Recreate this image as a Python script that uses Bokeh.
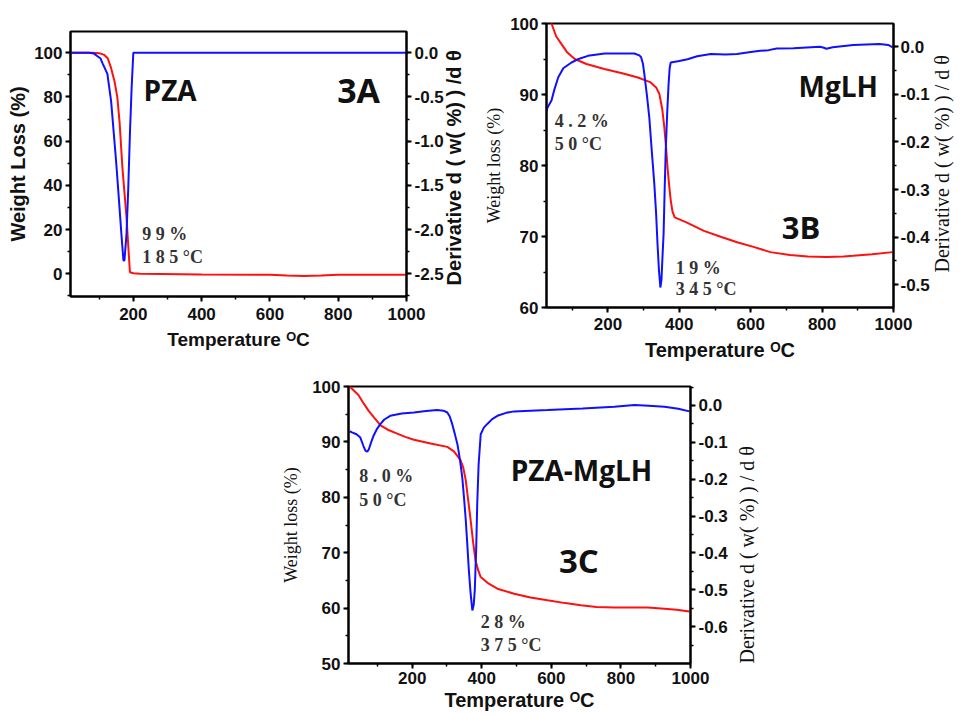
import math
from bokeh.plotting import figure
from bokeh.models import (Range1d, LinearAxis, SingleIntervalTicker,
                          PrintfTickFormatter, Label, Spacer)
from bokeh.layouts import column, row
from bokeh.embed import file_html
from bokeh.resources import INLINE

SANS = "Liberation Sans"
SERIF = "Liberation Serif"
HEAD = "Open Sans"
RED = "#ff1010"
BLUE = "#1010ff"
X_TITLE = "Temperature ᴼC"
NB = "\u00a0"

# ---------------- 3A : PZA ----------------
a_w_t = [16, 80, 100, 115, 125, 134, 145, 153, 160, 168, 175, 180, 185, 190,
         200, 220, 400, 600, 650, 700, 750, 800, 1000]
a_w = [100, 100, 99.8, 99, 97.5, 93.5, 87, 80, 68, 48, 35, 25.6, 13, 0.7,
       0.2, 0, -0.3, -0.5, -0.8, -1.0, -0.8, -0.5, -0.5]
a_d_t = [16, 70, 85, 95, 104, 110, 124, 135, 143, 150, 158, 165, 171, 174,
         180, 185, 190, 195, 200, 1000]
a_d = [0, 0, -0.01, -0.04, -0.066, -0.12, -0.24, -0.55, -0.92, -1.25, -1.67,
       -2.05, -2.35, -2.35, -2.05, -1.55, -0.92, -0.4, 0, 0]

# ---------------- 3B : MgLH ----------------
b_w_t = [30, 42, 55, 70, 85, 107, 140, 190, 240, 284, 320, 335, 344, 352,
         358, 363, 367, 372, 376, 381, 387, 420, 469, 520, 562, 610, 655,
         710, 760, 813, 860, 887, 940, 998]
b_w = [101.5, 100, 98.2, 97.1, 96.0, 95.0, 94.3, 93.6, 93.0, 92.4, 91.7,
       91.0, 90.1, 88, 85.4, 82.5, 79.7, 77, 75.1, 73.5, 72.7, 72.0, 70.8,
       69.9, 69.2, 68.5, 67.8, 67.4, 67.2, 67.1, 67.2, 67.3, 67.5, 67.8]
b_d_t = [28, 31, 42, 50, 61, 75, 98, 120, 144, 191, 240, 274, 288, 293,
         298, 302, 309, 316, 323, 330, 335, 339, 343, 347, 350, 353, 356,
         359, 362, 366, 370, 373, 376, 400, 423, 450, 488, 530, 562, 600,
         627, 650, 673, 720, 794, 805, 812, 830, 887, 961, 985, 998]
b_d = [-0.135, -0.1275, -0.113, -0.09, -0.064, -0.045, -0.033, -0.025,
       -0.019, -0.014, -0.014, -0.014, -0.018, -0.022, -0.035, -0.057,
       -0.1, -0.149, -0.22, -0.288, -0.35, -0.415, -0.47, -0.506, -0.49,
       -0.44, -0.393, -0.3, -0.218, -0.14, -0.078, -0.045, -0.033, -0.03,
       -0.026, -0.02, -0.015, -0.016, -0.015, -0.011, -0.0084, -0.007,
       -0.0035, -0.003, 0.0, -0.002, -0.004, -0.001, 0.004, 0.006, 0.004,
       -0.001]

# ---------------- 3C : PZA-MgLH ----------------
c_w_t = [20, 27, 45, 61, 75, 89, 109, 130, 157, 180, 205, 253, 301, 320,
         339, 347, 354, 361, 368, 375, 382, 390, 397, 420, 445, 493, 540,
         589, 640, 685, 730, 781, 877, 925, 960, 997]
c_w = [100, 99.6, 98.5, 96.9, 95.6, 94.5, 93.0, 92.2, 91.5, 90.9, 90.4,
       89.7, 89.1, 88.3, 86.7, 85.3, 83.1, 79.5, 75.9, 72, 68.6, 66.8, 65.6,
       64.4, 63.5, 62.6, 61.9, 61.4, 60.9, 60.5, 60.2, 60.1, 60.1, 59.9,
       59.7, 59.4]
c_d_t = [20, 27, 40, 51, 60, 66, 71, 75, 82, 89, 98, 109, 120, 137, 170,
         205, 240, 272, 290, 301, 308, 315, 322, 330, 337, 344, 349, 354,
         358, 363, 368, 373, 377, 380, 384, 387, 391, 397, 406, 416, 430,
         445, 470, 493, 540, 589, 690, 781, 839, 880, 925, 965, 997]
c_d = [-0.07, -0.073, -0.078, -0.087, -0.11, -0.123, -0.125, -0.12, -0.1,
       -0.082, -0.065, -0.05, -0.038, -0.028, -0.022, -0.019, -0.015,
       -0.0125, -0.014, -0.019, -0.03, -0.05, -0.075, -0.105, -0.145,
       -0.195, -0.25, -0.31, -0.37, -0.448, -0.51, -0.556, -0.54, -0.50,
       -0.39, -0.267, -0.16, -0.078, -0.06, -0.05, -0.037, -0.028, -0.02,
       -0.016, -0.014, -0.0125, -0.008, -0.0035, 0.001, -0.0005, -0.0035,
       -0.009, -0.016]

# annotation texts (text, x, y)
a_notes = [("9 9 %", 226, 18), ("1 8 5 °C", 226, 7.5)]
b_notes = [("4 . 2 %", 51, 86.3), ("5 0  °C", 51, 83.0),
           ("1 9 %", 390, 65.6), ("3 4 5 °C", 390, 62.6)]
c_notes = [("8 . 0 %", 48, 83.8), ("5 0  °C", 48, 79.6),
           ("2 8 %", 397, 57.5), ("3 7 5 °C", 397, 53.3)]
a_heads = [("PZA", 230, 83, 28), ("3A", 797, 83, 34)]
b_heads = [("MgLH", 734, 91.2, 28), ("3B", 687, 71.3, 31)]
c_heads = [("PZA-MgLH", 483, 84.9, 28), ("3C", 622, 68.6, 33)]


def style_axis(ax, font, size, standoff):
    ax.axis_line_width = 2
    ax.axis_line_color = "black"
    ax.major_tick_line_width = 2
    ax.minor_tick_line_width = 1.5
    ax.major_tick_out = 5
    ax.major_tick_in = 0
    ax.minor_tick_out = 3
    ax.minor_tick_in = 0
    ax.major_label_text_font = font
    ax.major_label_text_font_size = size
    ax.major_label_text_font_style = "bold"
    ax.major_label_text_color = "#111111"
    ax.major_label_standoff = standoff


def panel(width, height, mb, xr, yl, yr, lint, rint, wt, w, dt, d,
          xsize, xlstand, xstand,
          ltitle, lfont, lstyle, lsize, lstand,
          rtitle, rfont, rstyle, rsize, rlstand, rstand, notes, heads):
    mbl, mbr, mbt, mbb = mb
    p = figure(width=width, height=height, output_backend="svg",
               toolbar_location=None, x_range=Range1d(*xr),
               y_range=Range1d(*yl), min_border_left=mbl,
               min_border_right=mbr, min_border_top=mbt,
               min_border_bottom=mbb, background_fill_color="white",
               border_fill_color="white")
    p.extra_y_ranges = {"d": Range1d(*yr)}
    p.grid.visible = False
    p.outline_line_color = "black"
    p.outline_line_width = 2
    p.outline_line_alpha = 1

    p.line(wt, w, line_color=RED, line_width=2)
    p.line(dt, d, line_color=BLUE, line_width=2, y_range_name="d")

    xa = p.xaxis[0]
    xa.ticker = SingleIntervalTicker(interval=200, num_minor_ticks=2)
    style_axis(xa, SANS, "17px", xlstand)
    xa.axis_label = X_TITLE
    xa.axis_label_text_font = SANS
    xa.axis_label_text_font_style = "bold"
    xa.axis_label_text_font_size = xsize
    xa.axis_label_text_color = "#111111"
    xa.axis_label_standoff = xstand

    ya = p.yaxis[0]
    ya.ticker = SingleIntervalTicker(interval=lint, num_minor_ticks=2)
    style_axis(ya, SANS, "17px", 3)
    ya.axis_label = ltitle
    ya.axis_label_text_font = lfont
    ya.axis_label_text_font_style = lstyle
    ya.axis_label_text_font_size = lsize
    ya.axis_label_text_color = "#111111"
    ya.axis_label_standoff = lstand

    ra = LinearAxis(y_range_name="d",
                    ticker=SingleIntervalTicker(interval=rint,
                                                num_minor_ticks=2),
                    formatter=PrintfTickFormatter(format="%.1f"))
    style_axis(ra, SANS, "17px", rlstand)
    ra.axis_label = rtitle
    ra.axis_label_text_font = rfont
    ra.axis_label_text_font_style = rstyle
    ra.axis_label_text_font_size = rsize
    ra.axis_label_text_color = "#111111"
    ra.axis_label_standoff = rstand
    props = ra.properties()
    if "axis_label_orientation" in props and "axis_label_align" in props:
        try:
            ra.axis_label_orientation = math.pi / 2
            ra.axis_label_align = "start"
        except Exception:
            pass
    p.add_layout(ra, "right")

    for t, x, y in notes:
        p.add_layout(Label(x=x, y=y, text=t, text_font=SERIF,
                           text_font_style="bold", text_font_size="18px",
                           text_color="#333333",
                           text_baseline="alphabetic"))
    for t, x, y, s in heads:
        p.add_layout(Label(x=x, y=y, text=t, text_font=HEAD,
                           text_font_style="bold", text_font_size=f"{s}px",
                           text_color="#111111",
                           text_baseline="alphabetic"))
    return p


pa = panel(481, 366, (70, 75, 31, 70), (16, 1000), (-10.3, 109.6),
           (-2.7575, 0.24), 20, 0.5, a_w_t, a_w, a_d_t, a_d,
           "19px", 6, 6,
           "Weight Loss (%)", SANS, "bold", "20px", 2,
           NB * 2 + "Derivative d ( w( %) ) /d θ", SANS, "bold", "20px",
           3, 7, a_notes, a_heads)

pb = panel(485, 366, (64, 70, 23, 59), (28, 1000), (60, 100),
           (-0.548, 0.049), 10, 0.1, b_w_t, b_w, b_d_t, b_d,
           "20px", 5, 6,
           "Weight loss (%)", SERIF, "normal", "18px", 3,
           NB * 7 + "Derivative d ( w( %) ) / d θ", SERIF, "normal", "20px",
           2, 9, b_notes, b_heads)

pc = panel(506, 349, (78, 86, 20, 52), (17, 1000), (50, 100),
           (-0.7, 0.0515), 10, 0.1, c_w_t, c_w, c_d_t, c_d,
           "20px", 3, 2,
           "Weight loss (%)", SERIF, "normal", "18px", 8,
           "Derivative d ( w( %) ) / d θ", SERIF, "normal", "20px",
           3, 16, c_notes, c_heads)

layout = column(row(column(pa), column(pb)),
                row(Spacer(width=270, height=349), pc))

open("out.html", "w").write(file_html(layout, INLINE))
